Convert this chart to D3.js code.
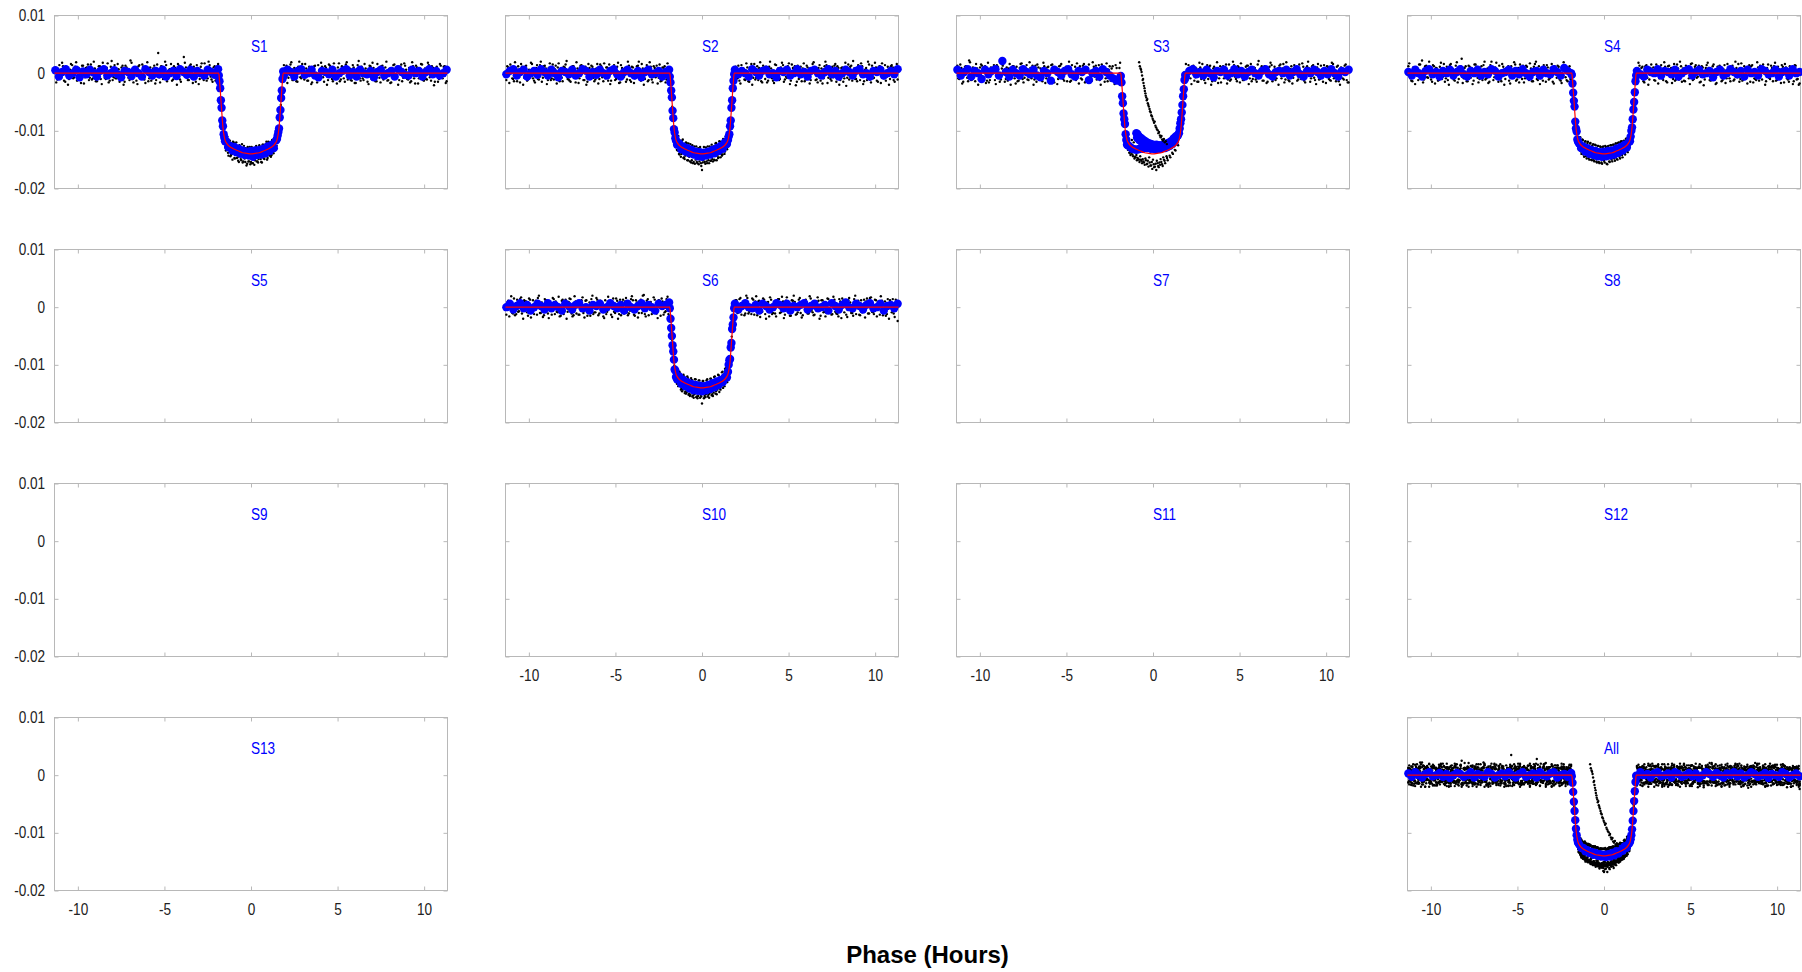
<!DOCTYPE html>
<html><head><meta charset="utf-8">
<script src="https://cdn.jsdelivr.net/npm/d3@7"></script>
<style>body{margin:0;background:#fff}svg{display:block}</style>
</head><body><svg id="chart" width="1802" height="972"></svg>
<script>
// ---------------- DATA (flux values are in units of 1e-4 relative flux) ----------------
const panelNames = ["S1","S2","S3","S4","S5","S6","S7","S8","S9","S10","S11","S12","S13","All"];
const xTickValues = [-10,-5,0,5,10];
const xTickLabels = ["-10","-5","0","5","10"];
const yTickValues = [100,0,-100,-200];
const yTickLabels = ["0.01","0","-0.01","-0.02"];
const xAxisTitle = "Phase (Hours)";

// phases (hours) of the unbinned points, first set
const rawPhase = [
-11.30,-11.19,-11.07,-10.96,-10.86,-10.73,-10.62,-10.51,-10.40,-10.27,
-10.16,-10.05,-9.93,-9.82,-9.70,-9.59,-9.48,-9.36,-9.25,-9.13,
-9.02,-8.90,-8.79,-8.68,-8.56,-8.45,-8.33,-8.22,-8.10,-7.99,
-7.88,-7.76,-7.65,-7.53,-7.42,-7.30,-7.19,-7.08,-6.96,-6.85,
-6.73,-6.62,-6.50,-6.39,-6.28,-6.16,-6.05,-5.93,-5.82,-5.70,
-5.59,-5.48,-5.36,-5.25,-5.13,-5.02,-4.90,-4.79,-4.68,-4.56,
-4.45,-4.33,-4.22,-4.10,-3.99,-3.88,-3.76,-3.65,-3.53,-3.42,
-3.30,-3.19,-3.08,-2.96,-2.85,-2.73,-2.62,-2.50,-2.39,-2.28,
-2.16,-2.05,-1.94,
-1.84,-1.72,-1.60,
-1.48,-1.41,-1.33,-1.26,-1.19,-1.11,-1.04,-0.96,-0.89,-0.81,
-0.74,-0.67,-0.59,-0.52,-0.44,-0.37,-0.30,-0.22,-0.15,-0.07,
0.00,0.07,0.15,0.22,0.30,0.37,0.44,0.52,0.59,0.67,
0.74,0.81,0.89,0.96,1.04,1.11,1.19,1.26,1.33,1.41,1.48,
1.60,1.72,1.84,
1.94,2.05,2.16,2.28,2.39,2.50,2.62,2.73,2.85,2.96,
3.08,3.19,3.30,3.42,3.53,3.65,3.76,3.88,3.99,4.10,
4.22,4.33,4.45,4.56,4.68,4.79,4.90,5.02,5.13,5.25,
5.36,5.48,5.59,5.70,5.82,5.93,6.05,6.16,6.28,6.39,
6.50,6.62,6.73,6.85,6.96,7.08,7.19,7.30,7.42,7.53,
7.65,7.76,7.88,7.99,8.10,8.22,8.33,8.45,8.56,8.68,
8.79,8.90,9.02,9.13,9.25,9.36,9.48,9.59,9.70,9.82,
9.93,10.05,10.16,10.27,10.40,10.51,10.62,10.73,10.86,10.96,
11.07,11.19,11.30];

// phases (hours) of the unbinned points, second set
const rawPhaseB = [
-11.25,-11.13,-11.02,-10.91,-10.80,-10.68,-10.57,-10.45,-10.33,-10.22,
-10.10,-9.99,-9.88,-9.76,-9.65,-9.53,-9.42,-9.31,-9.19,-9.08,
-8.96,-8.85,-8.73,-8.62,-8.50,-8.39,-8.28,-8.16,-8.05,-7.93,
-7.82,-7.70,-7.59,-7.48,-7.36,-7.25,-7.13,-7.02,-6.90,-6.79,
-6.68,-6.56,-6.45,-6.33,-6.22,-6.10,-5.99,-5.88,-5.76,-5.65,
-5.53,-5.42,-5.30,-5.19,-5.08,-4.96,-4.85,-4.73,-4.62,-4.50,
-4.39,-4.28,-4.16,-4.05,-3.93,-3.82,-3.70,-3.59,-3.48,-3.36,
-3.25,-3.13,-3.02,-2.90,-2.79,-2.68,-2.56,-2.45,-2.33,-2.22,
-2.10,-1.99,-1.90,
-1.45,-1.37,-1.30,-1.22,-1.15,-1.07,-1.00,-0.93,-0.85,-0.78,
-0.70,-0.63,-0.56,-0.48,-0.41,-0.33,-0.26,-0.19,-0.11,-0.04,
0.04,0.11,0.19,0.26,0.33,0.41,0.48,0.56,0.63,0.70,
0.78,0.85,0.93,1.00,1.07,1.15,1.22,1.30,1.37,1.45,
1.90,1.99,2.10,2.22,2.33,2.45,2.56,2.68,2.79,2.90,
3.02,3.13,3.25,3.36,3.48,3.59,3.70,3.82,3.93,4.05,
4.16,4.28,4.39,4.50,4.62,4.73,4.85,4.96,5.08,5.19,
5.30,5.42,5.53,5.65,5.76,5.88,5.99,6.10,6.22,6.33,
6.45,6.56,6.68,6.79,6.90,7.02,7.13,7.25,7.36,7.48,
7.59,7.70,7.82,7.93,8.05,8.16,8.28,8.39,8.50,8.62,
8.73,8.85,8.96,9.08,9.19,9.31,9.42,9.53,9.65,9.76,
9.88,9.99,10.10,10.22,10.33,10.45,10.57,10.68,10.80,10.91,
11.02,11.13,11.25];

const s1Raw = [
9,-11,14,-8,12,-15,7,-10,16,-9, 11,-13,8,-17,13,-7,10,-12,15,-9,
8,-14,12,-10,18,-8,9,-16,11,-12, 14,-9,7,-11,13,-15,10,-8,22,-10,
9,-13,12,-7,15,-11,8,-14,10,-9, 13,-12,35,-16,11,-8,14,-10,7,-13,
12,-9,16,-11,8,28,10,-12,13,-8, 11,-15,9,-10,17,-12,8,-9,14,-11, 10,-13,12,
-8,-48,-108,
-129,-111,-138,-117,-144,-140,-119,-147,-125,-147,
-152,-125,-149,-123,-153,-148,-130,-157,-153,-128,
-154,-156,-130,-151,-126,-153,-149,-128,-154,-124,
-148,-144,-119,-147,-120,-141,-142,-117,-135,-111,-126,
-104,-55,-6,
-10,13,-8,15,-12,9,-14,11,-7,16, -11,8,-13,10,-16,12,-9,14,-8,11,
-15,9,-12,13,-10,17,-8,10,-14,12, -9,15,-11,8,-13,10,-17,14,-9,11,
-12,8,-15,13,-10,9,-14,16,-8,12, -11,10,-13,7,-16,14,-9,11,-12,15,
-8,13,-10,9,-14,12,-18,10,-9,16, -12,8,-11,14,-13,9,-15,11,-10,13, -9,12,-14];
const s1RawB = [
-16,7,-9,18,-13,11,-20,6,14,-7, 19,-12,-6,13,-18,9,15,-8,-11,20,
-14,6,12,-19,8,-10,17,-13,21,-7, -9,16,-15,10,-20,13,6,-12,18,-16,
7,-19,14,-6,11,-17,19,-9,-13,8, -18,15,-7,12,-10,20,-14,6,16,-11,
9,-20,13,-15,7,18,-8,-12,15,-17, 6,14,-19,11,-9,17,-13,20,-6,-15, 12,-10,16,
-134,-110,-143,-117,-142,-150,-120,-148,-120,-146,
-154,-126,-151,-155,-126,-154,-160,-128,-153,-158,
-128,-156,-159,-129,-153,-155,-125,-149,-155,-124,
-149,-123,-150,-119,-143,-145,-116,-139,-112,-131,
14,-8,-17,10,19,-12,7,-15,20,-9, -6,16,-13,11,-19,8,13,-16,-10,18,
-7,12,-20,15,9,-14,6,-18,17,-11, 10,-15,19,-8,-12,14,-17,7,21,-13,
-9,16,-6,-19,12,18,-10,-14,8,-16, 13,-7,20,-12,-17,9,15,-8,-20,11,
-14,17,6,-11,-16,19,-9,13,-18,7, 15,-13,-10,18,-7,12,-21,9,-15,16, -8,11,-17];

const s2Raw = [
-12,10,15,-9,-14,8,12,-16,11,-8, 13,-11,-7,16,-13,9,-10,14,-15,12,
8,-12,17,-9,-11,13,10,-14,-8,11, 15,-10,-13,9,12,-16,8,-9,14,-12,
11,-15,9,13,-8,-11,16,-10,12,-14, -9,10,15,-13,8,-12,11,-17,14,-8,
9,-11,13,-15,10,-9,12,20,-13,8, -10,14,-12,11,-16,9,13,-8,-14,10, 12,-11,9,
-5,-58,-96,
-107,-134,-140,-117,-140,-115,-146,-143,-121,-151,
-145,-123,-151,-156,-127,-150,-154,-130,-153,-156,
-168,-151,-154,-129,-156,-151,-127,-152,-149,-127,
-151,-121,-143,-146,-119,-140,-141,-116,-136,-113,-127,
-98,-50,-2,
11,-9,-13,14,8,-12,10,-15,16,-8, -11,12,9,-14,13,-10,-16,11,8,-13,
15,-9,-12,10,14,-11,-8,17,-13,9, 12,-15,-10,11,8,-14,13,-9,-12,16,
10,-11,9,-13,-18,12,14,-8,-10,11, 13,-15,9,-12,10,-9,-22,15,11,-13,
8,-10,14,-12,12,-14,9,20,-11,13, -8,10,-15,12,17,-9,-13,11,-10,14, -12,9,-11];
const s2RawB = [
12,-17,8,-10,19,-14,-7,16,-20,11, -13,6,18,-9,-16,14,-11,20,-8,13,
-19,9,-12,15,7,-18,17,-6,-14,10, 21,-11,-15,12,-8,19,-17,13,6,-12,
-20,16,-9,11,-14,8,-18,15,-7,17, 10,-13,-19,6,14,-10,18,-16,9,-6,
-15,20,-12,11,-17,7,13,-9,16,-20, 8,-14,19,-11,12,-7,-18,15,-13,9, -16,17,-10,
-133,-109,-141,-145,-117,-147,-149,-120,-151,-122,
-153,-155,-125,-154,-157,-127,-156,-158,-128,-161,
-155,-128,-157,-153,-127,-156,-152,-124,-153,-150,
-122,-151,-147,-118,-146,-143,-114,-140,-110,-132,
-15,9,13,-18,6,-11,17,-14,10,-20, 16,-8,-12,19,-16,7,11,-13,20,-9,
-17,14,8,-10,18,-15,-6,12,-19,15, 9,-21,13,-7,-14,17,-11,10,-18,6,
19,-12,-16,14,8,-9,20,-17,11,-13, -7,16,12,-20,9,-15,18,-8,-11,13,
21,-10,-14,7,17,-19,6,-12,15,-16, -9,18,-13,11,-17,8,14,-6,-20,12, 10,-15,16];

const s3Raw = [
13,-10,9,-15,11,-8,22,-12,10,-14, 8,-11,15,-9,12,-13,-16,10,9,-12,
14,-8,-11,13,-15,10,8,-20,12,-9, 11,-13,16,-10,-8,14,-12,9,13,-11,
-15,10,8,-14,12,-9,11,-12,15,-16, 9,-10,13,-8,-13,11,10,-15,14,-9,
-12,8,12,-11,16,-14,9,-10,-13,11, 13,-8,-12,15,10,-9,-14,12,8,-11, 14,-13,9,
-6,-54,-103,
-128,-113,-137,-138,-141,-120,-145,-142,-147,-150,
-144,-152,-149,-155,-148,-158,-152,-146,-160,-154,
-150,-163,-157,-152,-161,-155,-149,-158,-146,-152,
-126,-147,-122,-143,-118,-138,-114,-133,-110,-112,-104,
-95,-50,-4,
-11,14,-9,12,-13,8,-15,10,16,-12, 9,-10,13,-14,11,-8,-17,12,10,-9,
15,-11,-13,9,14,-10,12,-16,8,-12, 11,13,-9,-14,10,-11,15,-8,12,-13,
9,-15,11,14,-10,-12,8,13,-9,16, -11,10,-14,12,-8,9,-13,15,-10,11,
-16,12,8,-9,14,-12,10,-11,13,-15, 9,12,-10,-13,16,-8,11,-14,10,-9, 13,-12,-16];
const s3RawB = [
-9,15,-18,7,12,-14,19,-11,-6,16, -20,10,13,-8,-17,18,-12,6,14,-19,
11,-15,8,20,-10,-13,16,-7,12,-18, -14,9,17,-16,6,-11,19,-9,-20,13,
15,-6,-12,18,-17,10,-8,14,-15,7, -19,12,16,-10,9,-14,20,-13,-7,11,
17,-18,-9,13,-16,8,15,-12,19,-6, -11,14,-20,10,-15,17,6,-13,12,-19, 9,-8,18,
-133,-138,-142,-116,-144,-148,-146,-151,-149,-154,
-150,-156,-153,-159,-151,-157,-162,-155,-160,-166,
-158,-162,-168,-156,-163,-159,-154,-161,-150,-156,
-144,-151,-130,-146,-124,-140,-116,-134,-113,-125,
16,-12,9,-19,13,-7,-15,18,-10,6, -17,14,11,-20,8,-13,19,-9,-16,12,
7,-18,15,-11,20,-6,-14,10,17,-12, -8,13,-19,16,-10,9,-15,21,-7,-13,
12,-17,6,18,-14,11,-9,-20,15,8, -16,19,-12,7,-18,14,10,-11,-6,17,
-13,9,20,-15,12,-8,-19,16,-10,6, 14,-17,11,-12,18,-9,-14,13,-20,7, -11,15,-16];

const s4Raw = [
12,-9,-14,10,8,-12,15,22,-11,13, -8,10,-15,12,9,-13,11,-10,16,-9,
-12,14,8,-11,13,-16,10,25,-9,12, -14,11,9,-13,15,-8,-10,12,14,-11,
8,-15,20,-12,10,-9,13,-14,11,-10, 9,-13,12,-8,15,-11,-16,10,13,-9,
11,-12,8,-14,16,-10,12,-9,-13,10, 14,-11,9,-15,12,-8,11,-13,10,14, -12,9,-10,
-4,-60,-99,
-128,-112,-136,-115,-141,-119,-144,-121,-147,-122,
-150,-125,-151,-124,-153,-126,-154,-127,-155,-128,
-152,-126,-157,-127,-153,-125,-150,-124,-148,-122,
-149,-121,-145,-119,-142,-118,-139,-114,-134,-110,-126,
-97,-53,-7,
-10,13,9,-14,12,-8,-11,15,10,-13, 8,-9,14,-12,11,-16,13,9,-10,-13,
15,-11,12,8,-14,10,-9,16,-12,11, -8,13,-15,10,-11,14,9,-13,12,-10,
-17,11,8,-12,14,-9,10,-14,13,-11, 9,16,-10,-13,12,-8,11,-15,14,-9,
-12,10,13,-11,8,-14,15,-10,9,12, -13,11,-9,14,-16,10,-11,12,8,-14, 13,-10,-18];
const s4RawB = [
17,-13,10,-19,6,15,-9,-16,12,-7, 20,-11,14,-18,8,-12,18,-6,-15,11,
-20,16,7,-13,19,-10,12,-17,9,-14, 13,-8,-19,15,11,-16,6,-12,20,-9,
-17,14,10,-7,18,-15,-11,16,-20,8, 12,-18,-6,19,-13,9,15,-10,-16,13,
-8,17,-14,11,20,-12,-19,7,14,-15, 10,-9,16,-18,6,13,-11,-17,19,-7, -14,12,-10,
-133,-111,-140,-116,-145,-118,-148,-119,-150,-121,
-151,-123,-153,-125,-155,-126,-156,-128,-157,-127,
-155,-128,-158,-126,-154,-125,-153,-124,-152,-122,
-150,-120,-148,-118,-146,-117,-141,-113,-137,-109,
-13,18,-7,11,-16,14,-20,9,6,-12, 15,-18,10,-9,19,-14,12,-6,-17,16,
-11,8,20,-15,-13,13,7,-19,17,-10, 14,-6,-16,12,-21,9,18,-12,-8,15,
-19,11,13,-14,7,-17,16,-9,10,-13, 20,-7,-15,17,-11,8,-18,14,12,-16,
-10,19,-13,6,15,-20,9,-8,13,-14, 18,-12,7,-17,11,16,-9,-15,10,-19, 14,-11,-20];

const s6Raw = [
-13,11,9,-10,15,-12,-8,14,-11,12, 10,-15,13,-9,-12,11,16,-10,8,-14,
12,-11,9,-13,14,10,-9,-16,11,-12, 13,-8,15,-11,-14,10,9,-13,12,-10,
11,-15,8,14,-12,-9,13,-11,10,-16, 12,-8,9,-13,15,-10,11,-12,-14,13,
10,-9,-11,14,12,-15,8,-10,13,20, -12,11,-14,9,-8,13,-11,12,-15,10, -9,14,-12,
-3,-57,-101,
-121,-127,-135,-115,-140,-143,-120,-146,-148,-123,
-150,-152,-126,-153,-151,-125,-155,-154,-127,-152,
-167,-128,-154,-151,-125,-152,-150,-124,-151,-148,
-120,-146,-143,-118,-141,-137,-112,-133,-107,-128,-108,
-96,-51,-5,
12,-10,14,-13,9,-11,16,-8,-12,13, 10,-14,11,-9,15,-12,8,-16,13,-10,
-11,12,14,-9,10,-13,17,-8,-15,11, 9,-12,13,-10,-14,12,8,-11,15,-9,
-13,10,11,-15,12,-8,-10,14,9,-12, 13,-11,-16,10,15,-9,-13,12,8,-10,
14,-12,11,-14,-9,13,10,-11,16,-8, -12,12,9,-13,11,-10,-15,14,12,-9, -11,13,-24];
const s6RawB = [
8,-16,19,-11,-14,13,-7,17,-20,10, -9,15,-18,12,6,-13,20,-10,-17,14,
11,-19,7,16,-12,-8,18,-15,13,-6, -20,9,14,-16,19,-11,-13,8,17,-18,
12,-7,-15,20,-9,16,-14,11,6,-19, -12,18,10,-17,-8,15,-20,13,9,-11,
16,-14,-6,19,-13,12,-18,7,-10,21, -16,14,8,-12,17,-9,-19,11,15,-13, -7,18,-15,
-133,-137,-112,-143,-146,-117,-149,-150,-120,-152,
-154,-123,-155,-157,-125,-156,-158,-127,-157,-155,
-128,-158,-156,-127,-155,-157,-124,-153,-154,-121,
-150,-151,-117,-147,-143,-113,-140,-137,-106,-130,
-18,12,-9,16,7,-14,20,-11,-6,15, -13,19,10,-17,-8,13,-20,9,17,-12,
6,-16,14,-10,18,-19,11,-7,-15,12, 20,-13,-9,16,-18,8,13,-11,19,-6,
-14,10,17,-20,12,-9,-16,15,7,-13, 18,-8,-12,14,-19,11,6,-17,16,-10,
-15,20,9,-13,12,-7,-18,15,-11,17, -9,13,-16,8,19,-14,10,-12,-20,6, 14,-17,11];

// S3: the separate descending track of unbinned points
const s3TrailPhase = [-0.80,-0.76,-0.72,-0.69,-0.66,-0.63,-0.60,-0.57,-0.55,-0.52,-0.49,-0.47,-0.44,-0.42,-0.39,-0.36,-0.33,-0.30,-0.27,-0.24,-0.20,-0.17,-0.13,-0.10,-0.06,-0.02,0.02,0.06,0.10,0.14,0.18,0.22,0.27,0.31,0.35,0.40,0.44,0.49,0.53,0.58,0.63,0.68,0.74,0.80];
const s3TrailFlux  = [19,12,8,6,2,-4,-12,-10,-17,-22,-26,-31,-35,-39,-42,-47,-45,-52,-55,-58,-62,-66,-68,-73,-75,-79,-82,-86,-84,-91,-94,-97,-99,-104,-102,-108,-111,-109,-115,-117,-114,-120,-118,-123];

// binned points (blue)
const binPhase = [
-11.3,-11.1,-10.9,-10.7,-10.5,-10.3,-10.1,-9.9,-9.7,-9.5,
-9.3,-9.1,-8.9,-8.7,-8.5,-8.3,-8.1,-7.9,-7.7,-7.5,
-7.3,-7.1,-6.9,-6.7,-6.5,-6.3,-6.1,-5.9,-5.7,-5.5,
-5.3,-5.1,-4.9,-4.7,-4.5,-4.3,-4.1,-3.9,-3.7,-3.5,
-3.3,-3.1,-2.9,-2.7,-2.5,-2.3,-2.1,-1.9,
-1.86,-1.82,-1.78,-1.74,-1.70,-1.66,-1.62,-1.58,-1.54,-1.50,
-1.44,-1.32,-1.20,-1.08,-0.96,-0.84,-0.72,-0.60,-0.48,-0.36,
-0.24,-0.12,0.00,0.12,0.24,0.36,0.48,0.60,0.72,0.84,
0.96,1.08,1.20,1.32,1.44,
1.50,1.54,1.58,1.62,1.66,1.70,1.74,1.78,1.82,1.86,
1.9,2.1,2.3,2.5,2.7,2.9,3.1,3.3,3.5,3.7,
3.9,4.1,4.3,4.5,4.7,4.9,5.1,5.3,5.5,5.7,
5.9,6.1,6.3,6.5,6.7,6.9,7.1,7.3,7.5,7.7,
7.9,8.1,8.3,8.5,8.7,8.9,9.1,9.3,9.5,9.7,
9.9,10.1,10.3,10.5,10.7,10.9,11.1,11.3];

const s1Bin = [
5,-6,2,7,-4,0,6,-7,3,-2, 6,1,-6,4,7,-4,0,5,-2,-7, 4,2,-5,6,0,-6,7,2,-4,4, -2,6,-6,0,4,-5,7,2,-3,6, -6,4,0,-4,6,2,-3,7,
-4,-14,-26,-47,-60,-82,-92,-106,-112,-118,
-118,-128,-126,-134,-128,-137,-131,-140,-134,-142, -136,-143,-135,-145,-134,-142,-133,-141,-131,-139, -127,-135,-124,-130,-117,
-114,-108,-102,-96,-77,-64,-43,-30,-10,3,
-4,6,2,-6,4,7,-3,0,6,-4, -7,4,2,-2,6,-6,0,4,7,-4, 2,-6,6,0,-2,4,-7,2,6,-4, 0,4,-6,7,2,-3,-4,6,0,4, -6,2,7,-2,4,-4,0,6];

const s2Bin = [
-2,4,7,-4,2,6,-6,0,4,-3, 7,2,-4,6,0,-7,4,2,-2,6, -4,0,7,4,-6,2,-3,6,0,-4, 4,7,-2,-6,2,6,0,-4,4,-7, 2,6,-2,0,4,-6,2,6,
-6,-16,-30,-42,-65,-78,-97,-103,-113,-117,
-124,-122,-132,-127,-136,-130,-139,-133,-141,-136, -144,-137,-145,-138,-143,-136,-141,-133,-139,-130, -135,-126,-131,-120,-123,
-116,-110,-106,-92,-82,-60,-47,-26,-13,-2,
6,-2,4,0,-6,7,2,-4,4,6, -2,0,-7,4,2,6,-4,0,7,-2, 2,-6,4,6,0,-4,2,7,-2,4, -6,0,6,2,-4,4,7,-2,0,-6, 4,2,6,-4,0,4,-2,7];

const s3Bin = [
6,-4,2,7,-6,4,0,-10,6,-2, 4,7,-4,21,2,-6,6,0,-4,7, 2,-2,6,-4,-7,4,0,-13,6,2, -4,4,7,-2,-6,4,2,6,-12,0, 4,-6,7,2,-4,-9,-13,-8,
-5,-16,-40,-52,-70,-80,-88,-106,-116,-124,
-125,-128,-131,-132,-133,-132,-130,-131,-129,-130, -128,-131,-130,-132,-129,-131,-130,-128,-127,-126, -124,-122,-118,-113,-108,
-104,-96,-87,-80,-68,-55,-40,-28,-12,-3,
-6,4,7,-2,2,-4,6,0,-7,4, 2,6,-4,0,7,-2,4,-6,2,6, 0,-4,4,7,-2,-6,2,4,0,6, -4,2,7,-2,-6,4,0,6,2,-4, 4,-2,7,0,-6,4,2,6];

// S3: raised group of binned points inside the transit
const s3BumpPhase = [-0.96,-0.90,-0.84,-0.76,-0.68,-0.60,-0.50,-0.40,-0.30,-0.20,-0.10,0.00,0.10,0.20,0.30,0.40,0.50,0.60,0.70,0.80,0.90,1.00,1.10,1.20,1.30,1.40,
  -0.92,-0.80,-0.66,-0.54,-0.42,-0.28,-0.14,0.00,0.14,0.28,0.42,0.56,0.70,0.84,0.98,1.12,1.26];
const s3BumpFlux  = [-104,-106,-109,-111,-113,-115,-117,-119,-121,-122,-123,-124,-125,-124,-126,-125,-126,-124,-125,-122,-121,-119,-117,-113,-110,-108,
  -112,-116,-119,-122,-124,-126,-127,-129,-130,-131,-131,-130,-130,-128,-126,-123,-119];

const s4Bin = [
2,-4,6,0,-6,4,7,-2,2,-6, 4,0,6,-4,2,7,-2,-6,4,0, 6,-4,2,-2,7,4,-6,0,2,6, -4,4,-2,7,0,-6,2,4,-4,6, 0,-2,7,2,-4,9,4,0,
-3,-18,-34,-48,-58,-84,-96,-101,-115,-119,
-122,-130,-127,-136,-130,-140,-133,-142,-135,-144, -137,-145,-136,-144,-135,-143,-134,-141,-131,-138, -128,-134,-124,-129,-119,
-118,-110,-100,-94,-80,-63,-50,-33,-14,-4,
4,-2,-6,6,2,0,7,-4,4,2, -2,6,-6,0,4,7,-4,2,6,-2, 0,4,-7,2,6,-4,0,7,2,-2, 4,-6,6,0,2,-4,7,4,-2,0, 6,-6,2,4,-4,7,0,2];

const s6Bin = [
0,6,-4,2,7,-2,4,-6,0,6, 2,-4,7,-2,4,0,-6,6,2,-4, 4,7,-2,0,-6,4,2,6,-4,0, 7,2,-2,4,-6,6,0,-4,2,7, -2,4,0,-6,6,2,4,8,
-2,-20,-36,-50,-66,-77,-91,-108,-110,-121,
-125,-120,-133,-126,-137,-130,-141,-133,-144,-135, -145,-136,-146,-137,-144,-135,-142,-132,-139,-129, -135,-126,-130,-121,-122,
-112,-100,-92,-90,-70,-62,-38,-30,-18,-2,
6,-4,2,7,0,-2,4,-6,6,2, -4,0,7,4,-2,6,-6,2,0,4, 7,-4,2,6,-2,0,4,-6,7,2, -4,4,8,0,-2,6,2,-4,4,7, -2,0,6,-6,2,4,-2,6];

const allBin = [
3,-3,5,0,-4,2,5,-2,0,4, -3,2,-5,0,4,2,-3,0,5,-4, 2,0,-3,5,2,-4,0,3,-2,5, 0,-4,2,5,-3,0,3,-4,5,0, -2,3,5,-4,0,2,-3,4,
-2,-13,-29,-46,-62,-78,-93,-104,-112,-117,
-120,-126,-126,-132,-130,-135,-133,-138,-135,-140, -137,-141,-138,-142,-137,-141,-135,-139,-132,-136, -128,-131,-123,-126,-119,
-116,-111,-104,-94,-79,-62,-45,-28,-12,-1,
-3,5,0,2,-4,3,5,-2,0,3, -4,5,2,-3,0,4,-2,3,-5,0, 5,2,-3,4,0,-4,3,0,5,-2, 3,-4,0,5,2,-3,0,4,-5,2, 0,-3,5,2,-4,0,3,-2];

// transit model (red)
const modelPhase = [-11.35,-1.86,-1.82,-1.78,-1.74,-1.70,-1.66,-1.62,-1.58,-1.54,-1.50,-1.44,-1.32,-1.20,-1.08,-0.96,-0.72,-0.48,-0.24,0,0.24,0.48,0.72,0.96,1.08,1.20,1.32,1.44,1.50,1.54,1.58,1.62,1.66,1.70,1.74,1.78,1.82,1.86,11.35];
const modelFlux  = [0,0,-12,-28,-45,-62,-79,-94,-104,-111,-116,-120,-125,-128,-130,-132,-135,-138,-139,-140,-139,-138,-135,-132,-130,-128,-125,-120,-116,-111,-104,-94,-79,-62,-45,-28,-12,0,0];

// ---------------- DRAWING ----------------
const FONT = "'Liberation Sans', Arial, Helvetica, sans-serif";
const BOX = "#b8b8b8";
const W = 393, H = 173;
const colX = [54.5, 505.5, 956.5, 1407.5];
const rowY = [15.5, 249.5, 483.5, 717.5];
const layout = {S1:[0,0],S2:[0,1],S3:[0,2],S4:[0,3],S5:[1,0],S6:[1,1],S7:[1,2],S8:[1,3],
                S9:[2,0],S10:[2,1],S11:[2,2],S12:[2,3],S13:[3,0],All:[3,3]};

const zipPts = (ph, fl) => d3.zip(ph, fl);
const sectorRaw = {S1:[s1Raw,s1RawB], S2:[s2Raw,s2RawB], S3:[s3Raw,s3RawB], S4:[s4Raw,s4RawB], S6:[s6Raw,s6RawB]};
const rawPts = {};
Object.keys(sectorRaw).forEach(k => rawPts[k] = zipPts(rawPhase, sectorRaw[k][0]).concat(zipPts(rawPhaseB, sectorRaw[k][1])));
const trailPts = zipPts(s3TrailPhase, s3TrailFlux);
rawPts.All = [].concat(rawPts.S1, rawPts.S2, rawPts.S3, rawPts.S4, rawPts.S6);
const binPts = {S1:zipPts(binPhase,s1Bin), S2:zipPts(binPhase,s2Bin),
  S3:zipPts(binPhase,s3Bin).concat(zipPts(s3BumpPhase,s3BumpFlux)),
  S4:zipPts(binPhase,s4Bin), S6:zipPts(binPhase,s6Bin), All:zipPts(binPhase,allBin)};
const modelPts = zipPts(modelPhase, modelFlux);

const svg = d3.select("#chart");
svg.append("rect").attr("width",1802).attr("height",972).attr("fill","#fff");

panelNames.forEach(name => {
  const [r, c] = layout[name];
  const x0 = colX[c], y0 = rowY[r];
  const x = d3.scaleLinear().domain([-11.35, 11.35]).range([x0, x0 + W]);
  const y = d3.scaleLinear().domain([-200, 100]).range([y0 + H, y0]);
  const showX = !Object.values(layout).some(([rr, cc]) => cc === c && rr === r + 1);
  const showY = c === 0;
  const g = svg.append("g");

  g.append("rect").attr("x", x0).attr("y", y0).attr("width", W).attr("height", H)
    .attr("fill", "none").attr("stroke", BOX).attr("stroke-width", 1);

  const styleAxis = sel => {
    sel.attr("font-family", FONT).attr("font-size", 16);
    sel.select(".domain").remove();
    sel.selectAll(".tick line").attr("stroke", BOX);
    sel.selectAll(".tick text").attr("fill", "#222").attr("transform", "scale(0.85,1)");
  };
  g.append("g").attr("transform", `translate(0,${y0 + H})`)
    .call(d3.axisBottom(x).tickValues(xTickValues).tickSize(-4).tickPadding(13)
      .tickFormat((d, i) => showX ? xTickLabels[i] : "")).call(styleAxis);
  g.append("g").attr("transform", `translate(0,${y0})`)
    .call(d3.axisTop(x).tickValues(xTickValues).tickSize(-4).tickFormat("")).call(styleAxis);
  g.append("g").attr("transform", `translate(${x0},0)`)
    .call(d3.axisLeft(y).tickValues(yTickValues).tickSize(-4).tickPadding(11)
      .tickFormat((d, i) => showY ? yTickLabels[i] : "")).call(styleAxis);
  g.append("g").attr("transform", `translate(${x0 + W},0)`)
    .call(d3.axisRight(y).tickValues(yTickValues).tickSize(-4).tickFormat("")).call(styleAxis);

  if (rawPts[name]) {
    g.append("g").selectAll("circle").data(rawPts[name]).join("circle")
      .attr("cx", d => x(d[0])).attr("cy", d => y(d[1])).attr("r", 1.2).attr("fill", "#000");
  }
  if (binPts[name]) {
    g.append("g").selectAll("circle").data(binPts[name]).join("circle")
      .attr("cx", d => x(d[0])).attr("cy", d => y(d[1])).attr("r", 4.2).attr("fill", "#0000ff");
  }
  if (name === "S3" || name === "All") {
    g.append("g").selectAll("circle").data(trailPts).join("circle")
      .attr("cx", d => x(d[0])).attr("cy", d => y(d[1])).attr("r", 1.2).attr("fill", "#000");
  }
  if (binPts[name]) {
    g.append("path").datum(modelPts)
      .attr("d", d3.line().x(d => x(d[0])).y(d => y(d[1])).curve(d3.curveMonotoneX))
      .attr("fill", "none").attr("stroke", "#ff0000").attr("stroke-width", 1.2);
  }

  g.append("text").attr("transform", `translate(${x(0)},${y0 + 36}) scale(0.8,1)`)
    .attr("font-family", FONT).attr("font-size", 17).attr("fill", "#0000ff").text(name);
});

svg.append("text").attr("x", 927.5).attr("y", 963).attr("text-anchor", "middle")
  .attr("font-family", FONT).attr("font-size", 24).attr("font-weight", "bold").attr("fill", "#000")
  .text(xAxisTitle);
</script>
</body></html>
